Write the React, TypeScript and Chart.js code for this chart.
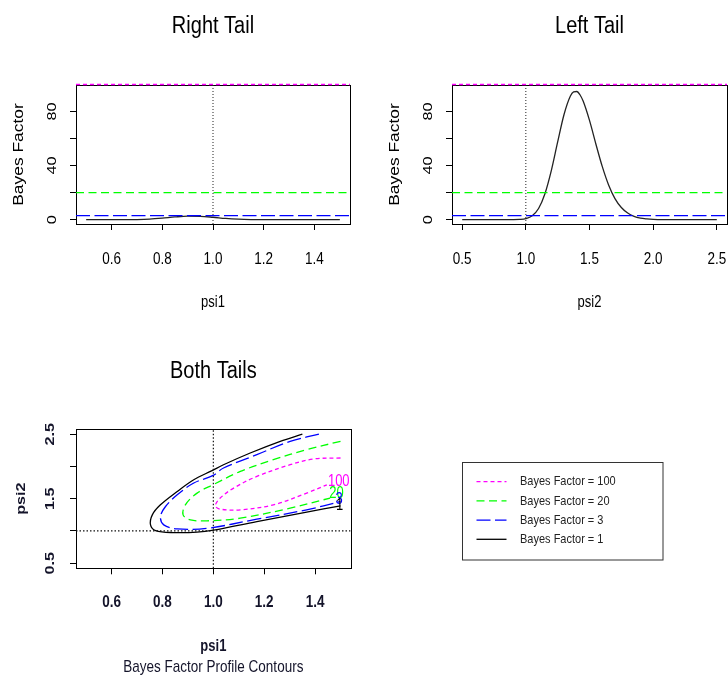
import React, { useEffect, useRef } from "react";
import { Chart, registerables } from "chart.js";
Chart.register(...registerables);

const FONT = '"Liberation Sans", Arial, Helvetica, sans-serif';

// ---------- data ----------
const rightPsi1 = [0.5, 0.55, 0.6, 0.65, 0.7, 0.75, 0.8, 0.85, 0.9, 0.95, 1.0, 1.05, 1.1, 1.15, 1.2, 1.25, 1.3, 1.4, 1.5];
const rightBF = [0, 0, 0, 0.02, 0.1, 0.4, 1.1, 2.0, 2.6, 2.5, 1.8, 0.9, 0.35, 0.1, 0.03, 0.01, 0, 0, 0];

const leftPsi2 = [0.5, 0.6, 0.7, 0.8, 0.9, 0.95, 1.0, 1.05, 1.1, 1.15, 1.2, 1.25, 1.3, 1.35, 1.375, 1.4, 1.425, 1.45, 1.5, 1.55, 1.6, 1.65, 1.7, 1.75, 1.8, 1.85, 1.9, 1.95, 2.0, 2.1, 2.2, 2.3, 2.4, 2.5];
const leftBF = [0, 0, 0, 0.002, 0.02, 0.15, 0.76, 2.9, 8.3, 19.2, 36.3, 57.5, 77.8, 91.5, 94.5, 94.8, 92.4, 87.7, 73.4, 56.0, 39.4, 25.7, 15.6, 9.0, 4.9, 2.5, 1.2, 0.6, 0.26, 0.05, 0.01, 0, 0, 0];

const refLevels = [100, 20, 3];
const refPsi = 1.0;

const bfLevels = [100, 20, 3, 1];
const levelColors = ["#FF00FF", "#00FF00", "#0000FF", "#000000"];
const levelDash = [[4, 3], [8, 4.5], [14, 4.5], []];
const legendLabels = ["Bayes Factor = 100", "Bayes Factor = 20", "Bayes Factor = 3", "Bayes Factor = 1"];
const contourLabels = ["100", "20", "3", "1"];

const psi1Ticks = [0.6, 0.8, 1.0, 1.2, 1.4];
const psi1TickLabels = ["0.6", "0.8", "1.0", "1.2", "1.4"];
const psi2Ticks = [0.5, 1.0, 1.5, 2.0, 2.5];
const psi2TickLabels = ["0.5", "1.0", "1.5", "2.0", "2.5"];
const psi2YTickLabels = ["0.5", "", "1.5", "", "2.5"];
const bfTicks = [0, 20, 40, 60, 80];
const bfTickLabels = ["0", "", "40", "", "80"];

// contour lines (psi1, psi2)
const c100Psi1 = [1.5, 1.393, 1.302, 1.171, 1.08, 1.027, 1.008, 1.027, 1.106, 1.236, 1.367, 1.446];
const c100Psi2 = [2.13, 2.115, 2.026, 1.845, 1.664, 1.509, 1.389, 1.337, 1.327, 1.404, 1.586, 1.715];
const c20Psi1 = [1.5, 1.367, 1.236, 1.106, 1.001, 0.936, 0.89, 0.881, 0.91, 0.975, 1.106, 1.302, 1.459];
const c20Psi2 = [2.389, 2.26, 2.104, 1.922, 1.72, 1.586, 1.404, 1.249, 1.171, 1.156, 1.197, 1.353, 1.509];
const c3Psi1 = [1.415, 1.302, 1.171, 1.04, 0.999, 0.923, 0.858, 0.812, 0.792, 0.805, 0.858, 0.975, 1.171, 1.367, 1.5];
const c3Psi2 = [2.5, 2.389, 2.182, 1.975, 1.86, 1.742, 1.56, 1.378, 1.222, 1.093, 1.031, 1.04, 1.182, 1.327, 1.456];
const c1Psi1 = [1.35, 1.263, 1.145, 1.04, 0.995, 0.923, 0.858, 0.792, 0.76, 0.753, 0.773, 0.844, 0.936, 1.001, 1.171, 1.367, 1.5];
const c1Psi2 = [2.5, 2.389, 2.208, 2.026, 1.935, 1.793, 1.611, 1.404, 1.249, 1.093, 1.005, 0.974, 0.98, 1.012, 1.145, 1.291, 1.389];
const contourPsi1 = [c100Psi1, c20Psi1, c3Psi1, c1Psi1];
const contourPsi2 = [c100Psi2, c20Psi2, c3Psi2, c1Psi2];
const contourLabelPsi1 = [1.493, 1.484, 1.494, 1.496];
const contourLabelPsi2 = [1.762, 1.575, 1.482, 1.389];

// ---------- helpers ----------
function drawText(ctx: CanvasRenderingContext2D, s: string, x: number, y: number, size: number, o: any = {}) {
  const { bold = false, rot = false, sy = 1.2, color = "#000", align = "center" } = o;
  ctx.save();
  ctx.translate(x, y);
  ctx.scale(1, sy);
  if (rot) ctx.rotate(-Math.PI / 2);
  ctx.font = `${bold ? "bold " : ""}${size}px ${FONT}`;
  ctx.fillStyle = color;
  ctx.textAlign = align;
  ctx.textBaseline = "middle";
  ctx.fillText(s, 0, 0);
  ctx.restore();
}

function pts(xs: number[], ys: number[]) {
  return xs.map((x, i) => ({ x, y: ys[i] }));
}

function bfDatasets(xs: number[], ys: number[], xMin: number, xMax: number, yMin: number, yMax: number) {
  const ds: any[] = [];
  ds.push({ data: [{ x: refPsi, y: yMin }, { x: refPsi, y: yMax }], borderColor: "#222", borderWidth: 1, borderDash: [1, 2] });
  refLevels.forEach((lvl, i) => {
    ds.push({ data: [{ x: xMin, y: lvl }, { x: xMax, y: lvl }], borderColor: levelColors[i], borderWidth: 1.4, borderDash: levelDash[i], clip: 4 });
  });
  ds.push({ data: pts(xs, ys), borderColor: "#222", borderWidth: 1.3, cubicInterpolationMode: "monotone" });
  return ds;
}

function buildConfig(spec: any) {
  const a = spec.area;
  const grid = { display: true, drawOnChartArea: false, drawTicks: true, tickLength: 6, color: "#000", lineWidth: 1 };
  const decor = {
    id: "decor",
    beforeDatasetsDraw(chart: any) {
      const ctx = chart.ctx;
      const ca = chart.chartArea;
      ctx.save();
      ctx.strokeStyle = "#000";
      ctx.lineWidth = 1;
      ctx.strokeRect(Math.round(ca.left) + 0.5, Math.round(ca.top) + 0.5, Math.round(ca.right - ca.left), Math.round(ca.bottom - ca.top));
      ctx.restore();
    },
    afterDraw(chart: any) {
      const ctx = chart.ctx;
      const ca = chart.chartArea;
      const xs = chart.scales.x;
      const ys = chart.scales.y;
      const col = spec.textColor;
      const cx = (ca.left + ca.right) / 2;
      const cy = (ca.top + ca.bottom) / 2;
      drawText(ctx, spec.title, cx, spec.titleY, 20, { sy: 1.15, color: "#000" });
      spec.xTicks.forEach((v: number, i: number) => {
        drawText(ctx, spec.xLabels[i], xs.getPixelForValue(v), ca.bottom + spec.xLabelOff, 13.5, { bold: spec.bold, color: col });
      });
      spec.yTicks.forEach((v: number, i: number) => {
        if (spec.yLabels[i]) drawText(ctx, spec.yLabels[i], ca.left - spec.yLabelOff, ys.getPixelForValue(v), 13.5, { bold: spec.bold, rot: true, color: col });
      });
      drawText(ctx, spec.xTitle, cx, ca.bottom + spec.xTitleOff, 13, { bold: spec.bold, color: col });
      drawText(ctx, spec.yTitle, ca.left - spec.yTitleOff, cy, spec.yTitleSize, { bold: spec.bold, rot: true, color: col });
      if (spec.subtitle) drawText(ctx, spec.subtitle, cx, ca.bottom + spec.subtitleOff, 13.5, { color: col });
      if (spec.extra) spec.extra(chart);
    },
  };
  return {
    type: "line",
    data: { datasets: spec.datasets },
    options: {
      animation: false,
      responsive: false,
      devicePixelRatio: 1,
      layout: { padding: { top: a.top, right: spec.width - a.right, left: 0, bottom: 0 } },
      plugins: { legend: { display: false }, tooltip: { enabled: false }, title: { display: false } },
      elements: { point: { radius: 0 }, line: { fill: false } },
      scales: {
        x: {
          type: "linear",
          min: spec.xMin,
          max: spec.xMax,
          afterBuildTicks: (s: any) => { s.ticks = spec.xTicks.map((v: number) => ({ value: v })); },
          afterFit: (s: any) => { s.height = spec.height - a.bottom; },
          ticks: { display: false },
          grid,
          border: { display: false },
        },
        y: {
          type: "linear",
          min: spec.yMin,
          max: spec.yMax,
          afterBuildTicks: (s: any) => { s.ticks = spec.yTicks.map((v: number) => ({ value: v })); },
          afterFit: (s: any) => { s.width = a.left; },
          ticks: { display: false },
          grid,
          border: { display: false },
        },
      },
    },
    plugins: [decor],
  };
}

function Panel({ spec, left, top }: any) {
  const ref = useRef<HTMLCanvasElement>(null);
  useEffect(() => {
    const chart = new Chart(ref.current as HTMLCanvasElement, buildConfig(spec) as any);
    return () => chart.destroy();
  }, []);
  return (
    <canvas
      ref={ref}
      width={spec.width}
      height={spec.height}
      style={{ position: "absolute", left, top, width: spec.width, height: spec.height }}
    />
  );
}

// ---------- panels ----------
const p1 = {
  width: 364, height: 338,
  area: { left: 76, top: 85, right: 350, bottom: 224 },
  xMin: 0.46, xMax: 1.54, yMin: -3.2, yMax: 99.6,
  xTicks: psi1Ticks, xLabels: psi1TickLabels, yTicks: bfTicks, yLabels: bfTickLabels,
  title: "Right Tail", titleY: 27, xTitle: "psi1", yTitle: "Bayes Factor", yTitleSize: 14.5,
  xLabelOff: 36, xTitleOff: 79, yLabelOff: 24, yTitleOff: 57, bold: false, textColor: "#000",
  datasets: bfDatasets(rightPsi1, rightBF, 0.46, 1.54, -3.2, 99.6),
};

const p2 = {
  width: 364, height: 338,
  area: { left: 88, top: 85, right: 363, bottom: 224 },
  xMin: 0.42, xMax: 2.58, yMin: -3.2, yMax: 99.6,
  xTicks: psi2Ticks, xLabels: psi2TickLabels, yTicks: bfTicks, yLabels: bfTickLabels,
  title: "Left Tail", titleY: 27, xTitle: "psi2", yTitle: "Bayes Factor", yTitleSize: 14.5,
  xLabelOff: 36, xTitleOff: 79, yLabelOff: 24, yTitleOff: 57, bold: false, textColor: "#000",
  datasets: bfDatasets(leftPsi2, leftBF, 0.42, 2.58, -3.2, 99.6),
};

const p3Datasets: any[] = [
  { data: [{ x: refPsi, y: 0.42 }, { x: refPsi, y: 2.58 }], borderColor: "#111", borderWidth: 1.2, borderDash: [1.5, 2] },
  { data: [{ x: 0.46, y: refPsi }, { x: 1.54, y: refPsi }], borderColor: "#111", borderWidth: 1.2, borderDash: [1.5, 2] },
  ...bfLevels.map((lvl, i) => ({
    data: pts(contourPsi1[i], contourPsi2[i]),
    borderColor: levelColors[i],
    borderWidth: 1.3,
    borderDash: levelDash[i],
    tension: 0.35,
  })),
];

const p3 = {
  width: 728, height: 338,
  area: { left: 76, top: 91, right: 350.7, bottom: 230.3 },
  xMin: 0.46, xMax: 1.54, yMin: 0.42, yMax: 2.58,
  xTicks: psi1Ticks, xLabels: psi1TickLabels, yTicks: psi2Ticks, yLabels: psi2YTickLabels,
  title: "Both Tails", titleY: 34, xTitle: "psi1", yTitle: "psi2", yTitleSize: 13.5,
  subtitle: "Bayes Factor Profile Contours", subtitleOff: 99,
  xLabelOff: 34, xTitleOff: 78, yLabelOff: 26, yTitleOff: 55, bold: true, textColor: "#14142a",
  datasets: p3Datasets,
  extra: (chart: any) => {
    const ctx = chart.ctx;
    const xs = chart.scales.x;
    const ys = chart.scales.y;
    contourLabels.forEach((s, i) => {
      drawText(ctx, s, xs.getPixelForValue(contourLabelPsi1[i]), ys.getPixelForValue(contourLabelPsi2[i]), 13, { color: levelColors[i] });
    });
    // legend
    const lx = 462.5, ly = 124.5, lw = 200.5, lh = 97.5;
    ctx.save();
    ctx.strokeStyle = "#333";
    ctx.lineWidth = 1;
    ctx.strokeRect(lx, ly, lw, lh);
    legendLabels.forEach((s, i) => {
      const y = ly + 19.2 + i * 19.2;
      ctx.beginPath();
      ctx.setLineDash(levelDash[i]);
      ctx.strokeStyle = levelColors[i];
      ctx.lineWidth = 1.3;
      ctx.moveTo(lx + 14, y);
      ctx.lineTo(lx + 44, y);
      ctx.stroke();
      ctx.setLineDash([]);
      drawText(ctx, s, lx + 57.5, y, 11, { align: "left", color: "#222" });
    });
    ctx.restore();
  },
};

export default function App() {
  return (
    <div style={{ position: "fixed", left: 0, top: 0, width: 728, height: 676, background: "#fff" }}>
      <Panel spec={p1} left={0} top={0} />
      <Panel spec={p2} left={364} top={0} />
      <Panel spec={p3} left={0} top={338} />
    </div>
  );
}
